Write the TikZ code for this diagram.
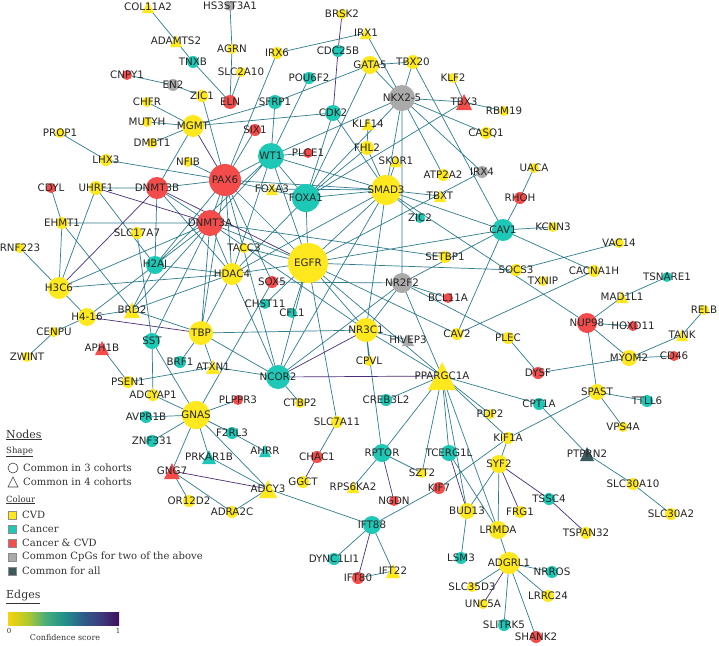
\documentclass[tikz,border=0pt]{standalone}
\usepackage{fontspec}
\usepackage{tikz}
\usetikzlibrary{positioning}
\newfontfamily\gfont{DejaVu Sans}
\newfontfamily\lfont{DejaVu Serif}
\definecolor{cvdc}{HTML}{FFE81E}
\definecolor{canc}{HTML}{1EC8B6}
\definecolor{bothc}{HTML}{F44B4B}
\definecolor{cpgc}{HTML}{AAAAAA}
\definecolor{allc}{HTML}{3C5A5E}
\definecolor{edgec}{HTML}{2F7D8E}
\definecolor{edgep}{HTML}{4A2F78}
\definecolor{vir0}{HTML}{F6D40E}
\definecolor{vir1}{HTML}{B5C82B}
\definecolor{vir2}{HTML}{4BAE7A}
\definecolor{vir3}{HTML}{21918C}
\definecolor{vir4}{HTML}{2E5F8A}
\definecolor{vir5}{HTML}{3E3A7E}
\definecolor{vir6}{HTML}{40105A}
\pgfdeclarelayer{bg}
\pgfsetlayers{bg,main}

\tikzset{
  gene/.style 2 args={circle, inner sep=0pt, minimum size=#1, fill=#2},
  tri/.style 2 args={rectangle, inner sep=0pt, minimum size=#1,
    path picture={\fill[#2] (path picture bounding box.south west) -- (path picture bounding box.south east) -- (path picture bounding box.north) -- cycle;}},
  lbl/.style={font=\gfont\fontsize{10.3}{12}\selectfont, text=black!85, inner sep=0pt},
  e/.style={draw=edgec, line width=0.7pt},
  ep/.style={draw=edgep, line width=0.7pt},
  leg/.style={font=\lfont\fontsize{10}{12}\selectfont, text=black!80, anchor=west, inner sep=0pt},
  legsub/.style={font=\lfont\fontsize{8.5}{10}\selectfont, text=black!80, anchor=west, inner sep=0pt},
  leghead/.style={font=\lfont\fontsize{11}{13}\selectfont, text=black!80, anchor=west, inner sep=0pt},
  swatch/.style={draw=black!45, line width=0.4pt, minimum size=8pt, inner sep=0pt},
}

\begin{document}
\begin{tikzpicture}[x=1pt, y=-1pt]
\useasboundingbox (0,0) rectangle (719,645);

% genes, CVD
\node[tri={12pt}{cvdc}, label={[lbl]center:COL11A2}] (COL11A2) at (148,7) {};
\node[tri={12pt}{cvdc}, label={[lbl]center:ADAMTS2}] (ADAMTS2) at (176,41) {};
\node[gene={10pt}{cvdc}, label={[lbl]center:AGRN}] (AGRN) at (232,49) {};
\node[gene={10pt}{cvdc}, label={[lbl]center:SLC2A10}] (SLC2A10) at (241,72) {};
\node[gene={12pt}{cvdc}, label={[lbl]center:ZIC1}] (ZIC1) at (202,96) {};
\node[gene={10pt}{cvdc}, label={[lbl]center:CHFR}] (CHFR) at (147,102) {};
\node[gene={10pt}{cvdc}, label={[lbl]center:MUTYH}] (MUTYH) at (147,122) {};
\node[gene={22pt}{cvdc}, label={[lbl]center:MGMT}] (MGMT) at (193,126) {};
\node[gene={10pt}{cvdc}, label={[lbl]center:PROP1}] (PROP1) at (60,133) {};
\node[gene={10pt}{cvdc}, label={[lbl]center:DMBT1}] (DMBT1) at (152,143) {};
\node[gene={12pt}{cvdc}, label={[lbl]center:LHX3}] (LHX3) at (106,160) {};
\node[gene={10pt}{cvdc}, label={[lbl]center:NFIB}] (NFIB) at (188,162) {};
\node[gene={14pt}{cvdc}, label={[lbl]center:UHRF1}] (UHRF1) at (96,188) {};
\node[gene={10pt}{cvdc}, label={[lbl]center:BRSK2}] (BRSK2) at (342,14) {};
\node[tri={12pt}{cvdc}, label={[lbl]center:IRX1}] (IRX1) at (366,33) {};
\node[gene={12pt}{cvdc}, label={[lbl]center:IRX6}] (IRX6) at (277,53) {};
\node[gene={18pt}{cvdc}, label={[lbl]center:GATA5}] (GATA5) at (370,65) {};
\node[gene={14pt}{cvdc}, label={[lbl]center:TBX20}] (TBX20) at (413,62) {};
\node[gene={10pt}{cvdc}, label={[lbl]center:KLF2}] (KLF2) at (453,78) {};
\node[gene={10pt}{cvdc}, label={[lbl]center:RBM19}] (RBM19) at (504,111) {};
\node[gene={12pt}{cvdc}, label={[lbl]center:CASQ1}] (CASQ1) at (486,133) {};
\node[tri={12pt}{cvdc}, label={[lbl]center:KLF14}] (KLF14) at (368,124) {};
\node[gene={14pt}{cvdc}, label={[lbl]center:FHL2}] (FHL2) at (367,148) {};
\node[tri={12pt}{cvdc}, label={[lbl]center:SKOR1}] (SKOR1) at (396,161) {};
\node[gene={12pt}{cvdc}, label={[lbl]center:ATP2A2}] (ATP2A2) at (443,175) {};
\node[tri={12pt}{cvdc}, label={[lbl]center:FOXA3}] (FOXA3) at (272,189) {};
\node[gene={30pt}{cvdc}, label={[lbl]center:SMAD3}] (SMAD3) at (386,190) {};
\node[tri={12pt}{cvdc}, label={[lbl]center:TBXT}] (TBXT) at (440,196) {};
\node[gene={10pt}{cvdc}, label={[lbl]center:UACA}] (UACA) at (534,168) {};
\node[gene={12pt}{cvdc}, label={[lbl]center:EHMT1}] (EHMT1) at (62,223) {};
\node[gene={10pt}{cvdc}, label={[lbl]center:RNF223}] (RNF223) at (20,248) {};
\node[gene={12pt}{cvdc}, label={[lbl]center:SLC17A7}] (SLC17A7) at (137,233) {};
\node[gene={10pt}{cvdc}, label={[lbl]center:TACC3}] (TACC3) at (244,248) {};
\node[gene={22pt}{cvdc}, label={[lbl]center:HDAC4}] (HDAC4) at (232,274) {};
\node[gene={22pt}{cvdc}, label={[lbl]center:H3C6}] (H3C6) at (59,288) {};
\node[tri={16pt}{cvdc}, label={[lbl]center:BRD2}] (BRD2) at (132,310) {};
\node[gene={18pt}{cvdc}, label={[lbl]center:H4-16}] (H416) at (87,317) {};
\node[gene={24pt}{cvdc}, label={[lbl]center:TBP}] (TBP) at (201,333) {};
\node[gene={10pt}{cvdc}, label={[lbl]center:CENPU}] (CENPU) at (54,332) {};
\node[gene={10pt}{cvdc}, label={[lbl]center:ZWINT}] (ZWINT) at (27,357) {};
\node[tri={14pt}{cvdc}, label={[lbl]center:ATXN1}] (ATXN1) at (213,367) {};
\node[gene={12pt}{cvdc}, label={[lbl]center:PSEN1}] (PSEN1) at (128,382) {};
\node[gene={12pt}{cvdc}, label={[lbl]center:ADCYAP1}] (ADCYAP1) at (153,395) {};
\node[gene={28pt}{cvdc}, label={[lbl]center:GNAS}] (GNAS) at (196,415) {};
\node[gene={40pt}{cvdc}, label={[lbl]center:EGFR}] (EGFR) at (308,263) {};
\node[gene={12pt}{cvdc}, label={[lbl]center:SETBP1}] (SETBP1) at (445,257) {};
\node[gene={24pt}{cvdc}, label={[lbl]center:NR3C1}] (NR3C1) at (366,330) {};
\node[gene={12pt}{cvdc}, label={[lbl]center:CAV2}] (CAV2) at (457,334) {};
\node[gene={10pt}{cvdc}, label={[lbl]center:CPVL}] (CPVL) at (369,361) {};
\node[tri={28pt}{cvdc}, label={[lbl]center:PPARGC1A}] (PPARGC1A) at (442,376) {};
\node[gene={10pt}{cvdc}, label={[lbl]center:KCNN3}] (KCNN3) at (553,227) {};
\node[gene={10pt}{cvdc}, label={[lbl]center:VAC14}] (VAC14) at (619,243) {};
\node[gene={12pt}{cvdc}, label={[lbl]center:SOCS3}] (SOCS3) at (516,270) {};
\node[gene={10pt}{cvdc}, label={[lbl]center:TXNIP}] (TXNIP) at (543,281) {};
\node[gene={12pt}{cvdc}, label={[lbl]center:CACNA1H}] (CACNA1H) at (594,271) {};
\node[tri={12pt}{cvdc}, label={[lbl]center:MAD1L1}] (MAD1L1) at (622,297) {};
\node[gene={10pt}{cvdc}, label={[lbl]center:RELB}] (RELB) at (704,310) {};
\node[tri={12pt}{cvdc}, label={[lbl]center:TANK}] (TANK) at (682,335) {};
\node[gene={12pt}{cvdc}, label={[lbl]center:PLEC}] (PLEC) at (508,338) {};
\node[gene={16pt}{cvdc}, label={[lbl]center:MYOM2}] (MYOM2) at (629,358) {};
\node[gene={16pt}{cvdc}, label={[lbl]center:SPAST}] (SPAST) at (597,392) {};
\node[gene={10pt}{cvdc}, label={[lbl]center:PDP2}] (PDP2) at (490,414) {};
\node[gene={10pt}{cvdc}, label={[lbl]center:VPS4A}] (VPS4A) at (623,427) {};
\node[gene={12pt}{cvdc}, label={[lbl]center:SLC7A11}] (SLC7A11) at (337,422) {};
\node[gene={10pt}{cvdc}, label={[lbl]center:CTBP2}] (CTBP2) at (300,403) {};
\node[gene={12pt}{cvdc}, label={[lbl]center:OR12D2}] (OR12D2) at (189,501) {};
\node[gene={12pt}{cvdc}, label={[lbl]center:ADRA2C}] (ADRA2C) at (232,512) {};
\node[tri={18pt}{cvdc}, label={[lbl]center:ADCY3}] (ADCY3) at (268,489) {};
\node[gene={12pt}{cvdc}, label={[lbl]center:GGCT}] (GGCT) at (303,482) {};
\node[tri={12pt}{cvdc}, label={[lbl]center:RPS6KA2}] (RPS6KA2) at (353,487) {};
\node[gene={10pt}{cvdc}, label={[lbl]center:SZT2}] (SZT2) at (422,473) {};
\node[gene={16pt}{cvdc}, label={[lbl]center:BUD13}] (BUD13) at (467,511) {};
\node[tri={14pt}{cvdc}, label={[lbl]center:IFT22}] (IFT22) at (393,571) {};
\node[gene={10pt}{cvdc}, label={[lbl]center:SLC35D3}] (SLC35D3) at (472,587) {};
\node[gene={12pt}{cvdc}, label={[lbl]center:KIF1A}] (KIF1A) at (508,438) {};
\node[gene={18pt}{cvdc}, label={[lbl]center:SYF2}] (SYF2) at (499,464) {};
\node[gene={12pt}{cvdc}, label={[lbl]center:SLC30A10}] (SLC30A10) at (633,484) {};
\node[gene={12pt}{cvdc}, label={[lbl]center:FRG1}] (FRG1) at (520,512) {};
\node[gene={12pt}{cvdc}, label={[lbl]center:SLC30A2}] (SLC30A2) at (671,514) {};
\node[gene={18pt}{cvdc}, label={[lbl]center:LRMDA}] (LRMDA) at (498,530) {};
\node[gene={12pt}{cvdc}, label={[lbl]center:TSPAN32}] (TSPAN32) at (586,533) {};
\node[gene={22pt}{cvdc}, label={[lbl]center:ADGRL1}] (ADGRL1) at (509,563) {};
\node[gene={12pt}{cvdc}, label={[lbl]center:LRRC24}] (LRRC24) at (548,596) {};
\node[gene={10pt}{cvdc}, label={[lbl]center:UNC5A}] (UNC5A) at (483,604) {};

% genes, cancer
\node[gene={12pt}{canc}, label={[lbl]center:TNXB}] (TNXB) at (193,62) {};
\node[gene={12pt}{canc}, label={[lbl]center:CDC25B}] (CDC25B) at (338,51) {};
\node[gene={12pt}{canc}, label={[lbl]center:POU6F2}] (POU6F2) at (309,78) {};
\node[gene={14pt}{canc}, label={[lbl]center:SFRP1}] (SFRP1) at (275,102) {};
\node[gene={16pt}{canc}, label={[lbl]center:CDK2}] (CDK2) at (333,113) {};
\node[gene={26pt}{canc}, label={[lbl]center:WT1}] (WT1) at (271,156) {};
\node[gene={28pt}{canc}, label={[lbl]center:FOXA1}] (FOXA1) at (306,198) {};
\node[gene={10pt}{canc}, label={[lbl]center:ZIC2}] (ZIC2) at (420,218) {};
\node[gene={22pt}{canc}, label={[lbl]center:CAV1}] (CAV1) at (503,230) {};
\node[gene={18pt}{canc}, label={[lbl]center:H2AJ}] (H2AJ) at (155,265) {};
\node[gene={16pt}{canc}, label={[lbl]center:SST}] (SST) at (152,341) {};
\node[gene={12pt}{canc}, label={[lbl]center:BRF1}] (BRF1) at (180,362) {};
\node[gene={10pt}{canc}, label={[lbl]center:CHST11}] (CHST11) at (265,304) {};
\node[gene={10pt}{canc}, label={[lbl]center:CFL1}] (CFL1) at (292,313) {};
\node[gene={24pt}{canc}, label={[lbl]center:NCOR2}] (NCOR2) at (278,377) {};
\node[gene={12pt}{canc}, label={[lbl]center:CREB3L2}] (CREB3L2) at (386,400) {};
\node[gene={12pt}{canc}, label={[lbl]center:AVPR1B}] (AVPR1B) at (146,417) {};
\node[gene={12pt}{canc}, label={[lbl]center:ZNF331}] (ZNF331) at (152,441) {};
\node[tri={14pt}{canc}, label={[lbl]center:PRKAR1B}] (PRKAR1B) at (209,457) {};
\node[gene={12pt}{canc}, label={[lbl]center:F2RL3}] (F2RL3) at (232,433) {};
\node[tri={12pt}{canc}, label={[lbl]center:AHRR}] (AHRR) at (265,451) {};
\node[gene={18pt}{canc}, label={[lbl]center:RPTOR}] (RPTOR) at (382,453) {};
\node[gene={16pt}{canc}, label={[lbl]center:TCERG1L}] (TCERG1L) at (449,453) {};
\node[gene={18pt}{canc}, label={[lbl]center:IFT88}] (IFT88) at (372,525) {};
\node[gene={12pt}{canc}, label={[lbl]center:DYNC1LI1}] (DYNC1LI1) at (334,559) {};
\node[gene={12pt}{canc}, label={[lbl]center:LSM3}] (LSM3) at (461,558) {};
\node[gene={10pt}{canc}, label={[lbl]center:TSNARE1}] (TSNARE1) at (667,277) {};
\node[gene={12pt}{canc}, label={[lbl]center:TTLL6}] (TTLL6) at (647,401) {};
\node[gene={12pt}{canc}, label={[lbl]center:CPT1A}] (CPT1A) at (539,404) {};
\node[gene={12pt}{canc}, label={[lbl]center:TSSC4}] (TSSC4) at (549,499) {};
\node[gene={12pt}{canc}, label={[lbl]center:NRROS}] (NRROS) at (552,572) {};
\node[gene={12pt}{canc}, label={[lbl]center:SLITRK5}] (SLITRK5) at (504,625) {};

% genes, cancer and CVD
\node[gene={10pt}{bothc}, label={[lbl]center:CNPY1}] (CNPY1) at (127,75) {};
\node[gene={14pt}{bothc}, label={[lbl]center:ELN}] (ELN) at (230,102) {};
\node[gene={12pt}{bothc}, label={[lbl]center:SIX1}] (SIX1) at (255,130) {};
\node[gene={10pt}{bothc}, label={[lbl]center:PLCE1}] (PLCE1) at (308,153) {};
\node[gene={32pt}{bothc}, label={[lbl]center:PAX6}] (PAX6) at (225,180) {};
\node[gene={22pt}{bothc}, label={[lbl]center:DNMT3B}] (DNMT3B) at (157,188) {};
\node[gene={26pt}{bothc}, label={[lbl]center:DNMT3A}] (DNMT3A) at (210,223) {};
\node[gene={10pt}{bothc}, label={[lbl]center:CDYL}] (CDYL) at (51,188) {};
\node[tri={16pt}{bothc}, label={[lbl]center:TBX3}] (TBX3) at (464,102) {};
\node[gene={12pt}{bothc}, label={[lbl]center:RHOH}] (RHOH) at (520,198) {};
\node[gene={12pt}{bothc}, label={[lbl]center:SOX5}] (SOX5) at (272,282) {};
\node[gene={10pt}{bothc}, label={[lbl]center:BCL11A}] (BCL11A) at (448,298) {};
\node[gene={20pt}{bothc}, label={[lbl]center:NUP98}] (NUP98) at (587,323) {};
\node[gene={10pt}{bothc}, label={[lbl]center:HOXD11}] (HOXD11) at (633,326) {};
\node[gene={10pt}{bothc}, label={[lbl]center:CD46}] (CD46) at (674,356) {};
\node[gene={12pt}{bothc}, label={[lbl]center:DYSF}] (DYSF) at (538,373) {};
\node[tri={14pt}{bothc}, label={[lbl]center:APH1B}] (APH1B) at (102,348) {};
\node[gene={10pt}{bothc}, label={[lbl]center:PLPPR3}] (PLPPR3) at (238,400) {};
\node[tri={16pt}{bothc}, label={[lbl]center:GNG7}] (GNG7) at (172,471) {};
\node[gene={12pt}{bothc}, label={[lbl]center:CHAC1}] (CHAC1) at (317,457) {};
\node[gene={12pt}{bothc}, label={[lbl]center:KIF7}] (KIF7) at (439,488) {};
\node[gene={10pt}{bothc}, label={[lbl]center:NGDN}] (NGDN) at (394,501) {};
\node[gene={12pt}{bothc}, label={[lbl]center:IFT80}] (IFT80) at (358,578) {};
\node[gene={12pt}{bothc}, label={[lbl]center:SHANK2}] (SHANK2) at (536,637) {};

% genes, common CpGs
\node[gene={10pt}{cpgc}, label={[lbl]center:HS3ST3A1}] (HS3ST3A1) at (230,6) {};
\node[gene={12pt}{cpgc}, label={[lbl]center:EN2}] (EN2) at (173,85) {};
\node[gene={26pt}{cpgc}, label={[lbl]center:NKX2-5}] (NKX25) at (402,98) {};
\node[gene={12pt}{cpgc}, label={[lbl]center:IRX4}] (IRX4) at (482,172) {};
\node[gene={20pt}{cpgc}, label={[lbl]center:NR2F2}] (NR2F2) at (402,283) {};
\node[tri={12pt}{cpgc}, label={[lbl]center:HIVEP3}] (HIVEP3) at (408,340) {};
\node[tri={14pt}{allc}, label={[lbl]center:PTPRN2}] (PTPRN2) at (587,454) {};

% interactions
\begin{pgfonlayer}{bg}
\fill[white] (0,0) rectangle (719,645);
\draw[e] (COL11A2.center) -- (ADAMTS2.center) (ADAMTS2.center) -- (TNXB.center)
  (TNXB.center) -- (ELN.center) (HS3ST3A1.center) -- (AGRN.center) (AGRN.center) -- (ELN.center)
  (SLC2A10.center) -- (ELN.center) (CNPY1.center) -- (EN2.center) (EN2.center) -- (ZIC1.center)
  (ZIC1.center) -- (PAX6.center) (CHFR.center) -- (MGMT.center) (MUTYH.center) -- (MGMT.center)
  (DMBT1.center) -- (MGMT.center) (MGMT.center) -- (DNMT3B.center) (MGMT.center) -- (CDK2.center)
  (MGMT.center) -- (SFRP1.center) (PROP1.center) -- (LHX3.center) (LHX3.center) -- (PAX6.center)
  (NFIB.center) -- (PAX6.center) (DNMT3B.center) -- (PAX6.center) (SIX1.center) -- (PAX6.center)
  (PAX6.center) -- (WT1.center) (PAX6.center) -- (FOXA1.center) (PAX6.center) -- (EGFR.center)
  (PAX6.center) -- (DNMT3A.center) (PAX6.center) -- (H2AJ.center) (PAX6.center) -- (HDAC4.center)
  (PAX6.center) -- (SOX5.center) (PAX6.center) -- (SMAD3.center) (PAX6.center) -- (NCOR2.center)
  (PAX6.center) -- (TBP.center) (UHRF1.center) -- (DNMT3B.center) (UHRF1.center) -- (H3C6.center)
  (UHRF1.center) -- (H2AJ.center) (CDYL.center) -- (EHMT1.center) (EHMT1.center) -- (H3C6.center)
  (EHMT1.center) -- (DNMT3A.center) (EHMT1.center) -- (BRD2.center) (RNF223.center) -- (H3C6.center)
  (H3C6.center) -- (H416.center) (H3C6.center) -- (HDAC4.center) (H3C6.center) -- (DNMT3A.center)
  (SLC17A7.center) -- (SST.center) (H2AJ.center) -- (DNMT3B.center) (H2AJ.center) -- (DNMT3A.center)
  (H2AJ.center) -- (HDAC4.center) (H2AJ.center) -- (BRD2.center) (H2AJ.center) -- (WT1.center)
  (DNMT3B.center) -- (DNMT3A.center) (DNMT3B.center) -- (HDAC4.center) (DNMT3A.center) -- (HDAC4.center)
  (DNMT3A.center) -- (EGFR.center) (DNMT3A.center) -- (SST.center) (DNMT3A.center) -- (H416.center)
  (DNMT3A.center) -- (TBP.center) (DNMT3A.center) -- (SETBP1.center) (DNMT3A.center) -- (BRD2.center)
  (DNMT3A.center) -- (WT1.center) (DNMT3A.center) -- (NR3C1.center) (H416.center) -- (CENPU.center)
  (CENPU.center) -- (ZWINT.center) (H416.center) -- (BRD2.center) (APH1B.center) -- (PSEN1.center)
  (BRD2.center) -- (TBP.center) (BRD2.center) -- (HDAC4.center) (HDAC4.center) -- (TBP.center)
  (HDAC4.center) -- (EGFR.center) (HDAC4.center) -- (SMAD3.center) (HDAC4.center) -- (WT1.center)
  (HDAC4.center) -- (NCOR2.center) (HDAC4.center) -- (FOXA1.center) (TBP.center) -- (BRF1.center)
  (TBP.center) -- (ATXN1.center) (TBP.center) -- (NCOR2.center) (TBP.center) -- (NR3C1.center)
  (SST.center) -- (ADCYAP1.center) (SST.center) -- (GNAS.center) (PSEN1.center) -- (ATXN1.center)
  (ATXN1.center) -- (NCOR2.center) (ADCYAP1.center) -- (GNAS.center) (AVPR1B.center) -- (GNAS.center)
  (ZNF331.center) -- (GNAS.center) (GNAS.center) -- (PLPPR3.center) (GNAS.center) -- (F2RL3.center)
  (GNAS.center) -- (PRKAR1B.center) (GNAS.center) -- (GNG7.center) (GNAS.center) -- (ADCY3.center)
  (GNAS.center) -- (SOX5.center) (GNG7.center) -- (OR12D2.center) (GNG7.center) -- (ADRA2C.center)
  (ADCY3.center) -- (ADRA2C.center) (ADCY3.center) -- (IFT88.center) (F2RL3.center) -- (AHRR.center)
  (PRKAR1B.center) -- (ADCY3.center) (CHAC1.center) -- (SLC7A11.center) (RPTOR.center) -- (RPS6KA2.center)
  (RPTOR.center) -- (SZT2.center) (RPTOR.center) -- (NR3C1.center) (RPTOR.center) -- (PPARGC1A.center)
  (TCERG1L.center) -- (LRMDA.center) (TCERG1L.center) -- (PPARGC1A.center) (KIF7.center) -- (IFT88.center)
  (KIF7.center) -- (KIF1A.center) (IFT88.center) -- (DYNC1LI1.center) (IFT88.center) -- (IFT22.center)
  (IFT80.center) -- (IFT22.center) (BUD13.center) -- (LSM3.center) (BUD13.center) -- (SYF2.center)
  (SYF2.center) -- (KIF1A.center) (SYF2.center) -- (LRMDA.center) (LRMDA.center) -- (ADGRL1.center)
  (ADGRL1.center) -- (NRROS.center) (ADGRL1.center) -- (LRRC24.center) (ADGRL1.center) -- (SLITRK5.center)
  (ADGRL1.center) -- (SHANK2.center) (ADGRL1.center) -- (SLC35D3.center) (PTPRN2.center) -- (SLC30A10.center)
  (SLC30A10.center) -- (SLC30A2.center) (CPT1A.center) -- (PTPRN2.center) (SPAST.center) -- (TTLL6.center)
  (SPAST.center) -- (VPS4A.center) (SPAST.center) -- (NUP98.center) (SPAST.center) -- (KIF1A.center)
  (NUP98.center) -- (MAD1L1.center) (MAD1L1.center) -- (TSNARE1.center) (NUP98.center) -- (HOXD11.center)
  (NUP98.center) -- (MYOM2.center) (SMAD3.center) -- (NUP98.center) (MYOM2.center) -- (CD46.center)
  (MYOM2.center) -- (TANK.center) (TANK.center) -- (RELB.center) (MYOM2.center) -- (DYSF.center)
  (DYSF.center) -- (PLEC.center) (CAV1.center) -- (KCNN3.center) (CAV1.center) -- (CACNA1H.center)
  (CAV1.center) -- (CAV2.center) (CAV1.center) -- (EGFR.center) (CAV1.center) -- (NR2F2.center)
  (CAV1.center) -- (TBX20.center) (CAV1.center) -- (RHOH.center) (RHOH.center) -- (UACA.center)
  (CAV1.center) -- (SMAD3.center) (SOCS3.center) -- (VAC14.center) (EGFR.center) -- (SOCS3.center)
  (CACNA1H.center) -- (CAV2.center) (EGFR.center) -- (CAV2.center) (PLEC.center) -- (NR2F2.center)
  (NR2F2.center) -- (SOX5.center) (NR2F2.center) -- (NR3C1.center) (NR2F2.center) -- (PPARGC1A.center)
  (NR2F2.center) -- (BCL11A.center) (NR2F2.center) -- (NKX25.center) (NR2F2.center) -- (NCOR2.center)
  (NR3C1.center) -- (CPVL.center) (NR3C1.center) -- (HIVEP3.center) (NR3C1.center) -- (PPARGC1A.center)
  (NR3C1.center) -- (EGFR.center) (NR3C1.center) -- (SMAD3.center) (NCOR2.center) -- (EGFR.center)
  (NCOR2.center) -- (CTBP2.center) (NCOR2.center) -- (SMAD3.center) (PPARGC1A.center) -- (CREB3L2.center)
  (PPARGC1A.center) -- (PDP2.center) (PPARGC1A.center) -- (CPT1A.center) (PPARGC1A.center) -- (BUD13.center)
  (PPARGC1A.center) -- (LRMDA.center) (PPARGC1A.center) -- (KIF1A.center) (PPARGC1A.center) -- (SZT2.center)
  (PPARGC1A.center) -- (EGFR.center) (EGFR.center) -- (SLC7A11.center) (EGFR.center) -- (CHST11.center)
  (EGFR.center) -- (CFL1.center) (EGFR.center) -- (TACC3.center) (EGFR.center) -- (FOXA1.center)
  (EGFR.center) -- (SMAD3.center) (EGFR.center) -- (WT1.center) (EGFR.center) -- (IRX4.center)
  (SMAD3.center) -- (FOXA1.center) (SMAD3.center) -- (FOXA3.center) (SMAD3.center) -- (SKOR1.center)
  (SMAD3.center) -- (TBXT.center) (SMAD3.center) -- (FHL2.center) (SMAD3.center) -- (ZIC2.center)
  (SMAD3.center) -- (WT1.center) (SMAD3.center) -- (CDK2.center) (SMAD3.center) -- (NKX25.center)
  (FHL2.center) -- (KLF14.center) (FHL2.center) -- (FOXA1.center) (NKX25.center) -- (IRX1.center)
  (NKX25.center) -- (GATA5.center) (NKX25.center) -- (TBX20.center) (NKX25.center) -- (TBX3.center)
  (TBX3.center) -- (RBM19.center) (KLF2.center) -- (TBX3.center) (NKX25.center) -- (CASQ1.center)
  (NKX25.center) -- (ATP2A2.center) (NKX25.center) -- (IRX4.center) (NKX25.center) -- (WT1.center)
  (NKX25.center) -- (FOXA1.center) (TBX3.center) -- (FOXA1.center) (GATA5.center) -- (TBX20.center)
  (GATA5.center) -- (SFRP1.center) (GATA5.center) -- (FOXA1.center) (IRX6.center) -- (IRX1.center)
  (IRX6.center) -- (PAX6.center) (POU6F2.center) -- (WT1.center) (SFRP1.center) -- (WT1.center)
  (CDK2.center) -- (FOXA1.center) (WT1.center) -- (PLCE1.center) (WT1.center) -- (FOXA1.center);
\draw[ep] (BRSK2.center) -- (CDC25B.center) (CDC25B.center) -- (CDK2.center) (UHRF1.center) -- (DNMT3A.center)
  (MGMT.center) -- (PAX6.center) (H3C6.center) -- (DNMT3B.center) (H416.center) -- (TBP.center)
  (NCOR2.center) -- (PPARGC1A.center) (NR3C1.center) -- (NCOR2.center) (TCERG1L.center) -- (BUD13.center)
  (SYF2.center) -- (FRG1.center) (SYF2.center) -- (TSSC4.center) (TSSC4.center) -- (TSPAN32.center)
  (ADGRL1.center) -- (UNC5A.center) (GNG7.center) -- (ADCY3.center) (CHAC1.center) -- (GGCT.center)
  (RPTOR.center) -- (NGDN.center) (IFT88.center) -- (IFT80.center) (DNMT3B.center) -- (EGFR.center);
\end{pgfonlayer}

% legend
\node[leghead] (hnodes) at (6,435) {\underline{Nodes}};
\node[legsub] (hshape) at (6,452) {\underline{Shape}};
\draw[black!75, line width=0.6pt] (13,468) circle (5pt);
\node[leg] (lcirc) at (23,468) {Common in 3 cohorts};
\draw[black!75, line width=0.6pt] (8,487) -- (18,487) -- (13,477) -- cycle;
\node[leg] (ltri) at (23,482) {Common in 4 cohorts};
\node[legsub] (hcol) at (6,500) {\underline{Colour}};
\node[swatch, fill=cvdc] (scvd) at (12,515) {};
\node[leg] (lcvd) at (22,515) {CVD};
\node[swatch, fill=canc] (scan) at (12,529) {};
\node[leg] (lcan) at (22,529) {Cancer};
\node[swatch, fill=bothc] (sboth) at (12,543) {};
\node[leg] (lboth) at (22,543) {Cancer \& CVD};
\node[swatch, fill=cpgc] (scpg) at (12,557) {};
\node[leg] (lcpg) at (22,557) {Common CpGs for two of the above};
\node[swatch, fill=allc] (sall) at (12,571) {};
\node[leg] (lall) at (22,571) {Common for all};
\node[leghead] (hedges) at (6,597) {\underline{Edges}};
\shade[left color=vir0, right color=vir1] (8,612) rectangle (27,625);
\shade[left color=vir1, right color=vir2] (27,612) rectangle (45,625);
\shade[left color=vir2, right color=vir3] (45,612) rectangle (64,625);
\shade[left color=vir3, right color=vir4] (64,612) rectangle (82,625);
\shade[left color=vir4, right color=vir5] (82,612) rectangle (101,625);
\shade[left color=vir5, right color=vir6] (101,612) rectangle (119,625);
\node[font=\lfont\fontsize{7}{8}\selectfont, text=black!80] (czero) at (9,631) {0};
\node[font=\lfont\fontsize{7}{8}\selectfont, text=black!80] (cone) at (118,631) {1};
\node[font=\lfont\fontsize{8}{9}\selectfont, text=black!80] (cscore) at (65,638) {Confidence score};
\end{tikzpicture}
\end{document}
